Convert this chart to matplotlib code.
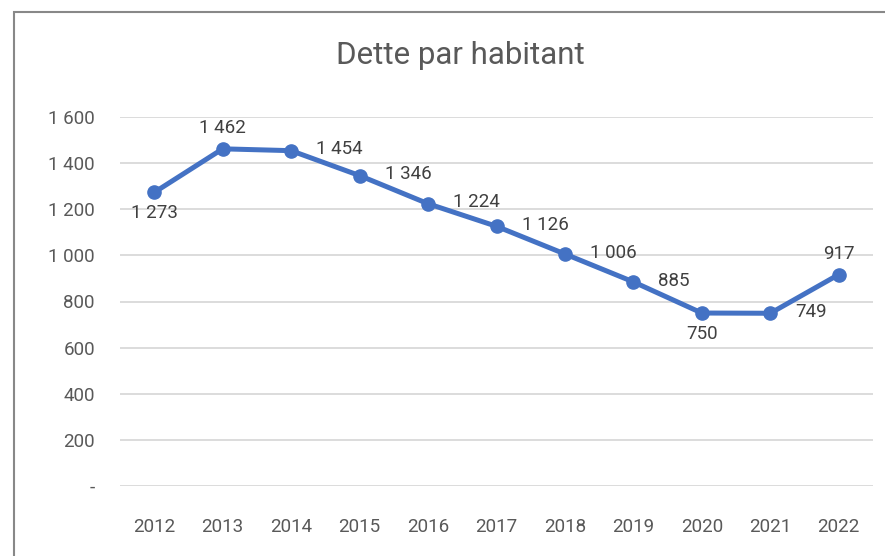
import matplotlib.pyplot as plt
from matplotlib.ticker import FuncFormatter
from matplotlib.patches import Rectangle

# Data
years = ['2012', '2013', '2014', '2015', '2016', '2017', '2018', '2019', '2020', '2021', '2022']
dette = [1273, 1462, 1454, 1346, 1224, 1126, 1006, 885, 750, 749, 917]
label_pos = ['below', 'above', 'right', 'right', 'right', 'right', 'right', 'right', 'below', 'right', 'above']

plt.rcParams['font.family'] = ['Roboto', 'DejaVu Sans']

BLUE = '#4472C4'
GREY = '#595959'


def fmt_fr(v, pos=None):
    if v == 0:
        return '-'
    return f'{int(round(v)):,}'.replace(',', ' ')


fig = plt.figure(figsize=(8.85, 5.56), dpi=100)
W, H = 885, 556
ax = fig.add_axes([120 / W, 1 - 486 / H, (873 - 120) / W, (486 - 117) / H])

x = list(range(len(years)))
ax.plot(x, dette, color=BLUE, lw=3.6, marker='o', ms=9.5, solid_capstyle='round', zorder=3)

# label offsets in points: dx, dy, ha
offsets = {'below': (0, -15, 'center'),
           'above': (0, 15, 'center'),
           'right': (18, 1, 'left')}
for xi, v, p in zip(x, dette, label_pos):
    dx, dy, ha = offsets[p]
    ax.annotate(fmt_fr(v), (xi, v), xytext=(dx, dy), textcoords='offset points',
                ha=ha, va='center', fontsize=13.5, color='#404040')

ax.set_xlim(-0.5, len(years) - 0.5)
ax.set_ylim(0, 1600)
ax.set_yticks(range(0, 1601, 200))
ax.yaxis.set_major_formatter(FuncFormatter(fmt_fr))
ax.set_xticks(x)
ax.set_xticklabels(years)
ax.grid(axis='y', color='#d9d9d9', lw=1.3)
ax.set_axisbelow(True)
for s in ax.spines.values():
    s.set_visible(False)
ax.tick_params(axis='both', length=0, labelsize=13.5, colors=GREY)
ax.tick_params(axis='y', pad=18)
ax.tick_params(axis='x', pad=23)

fig.text(460 / W, 1 - 55 / H, 'Dette par habitant', ha='center', va='center',
         fontsize=22.5, color=GREY)

# chart border (cropped screenshot)
fig.patches.append(Rectangle((14 / W, -0.1), 1.2, 1 - 12 / H + 0.1,
                             transform=fig.transFigure, fill=False,
                             edgecolor='#888888', lw=1.5))

fig.savefig('out.png', dpi=100)
